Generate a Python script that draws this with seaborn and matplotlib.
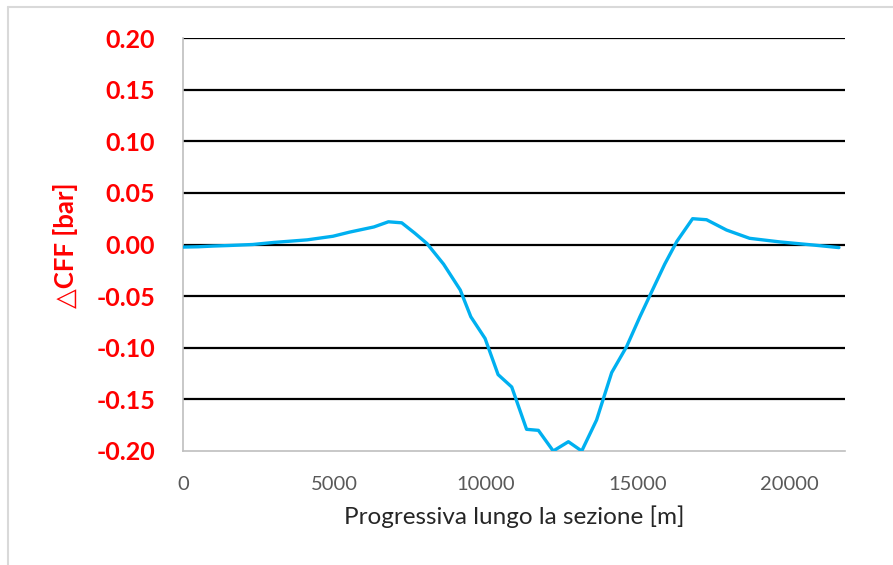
import matplotlib
matplotlib.use("Agg")
import matplotlib.pyplot as plt
import seaborn as sns
import pandas as pd
from matplotlib.lines import Line2D

# Data
progressiva = [0, 500, 1000, 1500, 2300, 3000, 4100, 4950, 5500, 6300, 6780, 7220,
               7650, 8050, 8600, 9150, 9500, 9970, 10400, 10850, 11340, 11730, 12220,
               12720, 13160, 13650, 14150, 14640, 15080, 15400, 15900, 16300, 16820,
               17280, 17940, 18700, 19700, 20800, 21650]
delta_cff = [-0.0025, -0.0022, -0.0015, -0.001, 0.0, 0.002, 0.0045, 0.008, 0.012, 0.017,
             0.022, 0.021, 0.011, 0.001, -0.019, -0.044, -0.070, -0.091, -0.126, -0.138,
             -0.179, -0.180, -0.200, -0.191, -0.200, -0.170, -0.124, -0.099, -0.070,
             -0.050, -0.019, 0.003, 0.025, 0.024, 0.014, 0.006, 0.0025, -0.0005, -0.003]
y_ticks = [-0.20, -0.15, -0.10, -0.05, 0.00, 0.05, 0.10, 0.15, 0.20]
x_ticks = [0, 5000, 10000, 15000, 20000]

df = pd.DataFrame({"x": progressiva, "y": delta_cff})

sns.set_style("white")
plt.rcParams["font.family"] = ["Lato", "DejaVu Sans"]

fig = plt.figure(figsize=(8.93, 5.65), dpi=100)
ax = fig.add_axes([183 / 893, 1 - 451 / 565, (845 - 183) / 893, (451 - 38) / 565])

sns.lineplot(data=df, x="x", y="y", ax=ax, color="#00B0F0", linewidth=2.4,
             sort=False, estimator=None, zorder=3)

ax.set_xlim(0, 21850)
ax.set_ylim(-0.20, 0.20)
ax.set_yticks(y_ticks)
ax.set_yticklabels([f"{v:.2f}" for v in y_ticks], color="#FF0000",
                   fontweight="bold", fontsize=18)
ax.set_xticks(x_ticks)
ax.set_xticklabels([str(v) for v in x_ticks], color="#595959", fontsize=14.5)
ax.tick_params(axis="both", length=0)
ax.tick_params(axis="y", pad=20)
ax.tick_params(axis="x", pad=18)

ax.yaxis.grid(True, color="black", linewidth=1.6, zorder=1)
ax.xaxis.grid(False)
ax.set_axisbelow(True)
gl = ax.get_ygridlines()
gl[0].set_visible(False)

for s in ["top", "right"]:
    ax.spines[s].set_visible(False)
for s in ["left", "bottom"]:
    ax.spines[s].set_color("#BFBFBF")
    ax.spines[s].set_linewidth(1.2)

ax.set_xlabel("Progressiva lungo la sezione [m]", fontsize=17.5, color="#262626",
              labelpad=9)
ax.set_ylabel("")
fig.text(65 / 893, 1 - 245 / 565, "\u25B3CFF [bar]", rotation=90, color="#FF0000",
         fontsize=18.5, fontweight="bold", ha="center", va="center",
         family=["Lato", "DejaVu Sans"])

# light outer frame (chart area border)
fig.add_artist(Line2D([8 / 893, 1], [1 - 7 / 565, 1 - 7 / 565], color="#D9D9D9",
                      linewidth=1.5, transform=fig.transFigure))
fig.add_artist(Line2D([8 / 893, 8 / 893], [0, 1 - 7 / 565], color="#D9D9D9",
                      linewidth=1.5, transform=fig.transFigure))

fig.savefig("out.png", dpi=100)
